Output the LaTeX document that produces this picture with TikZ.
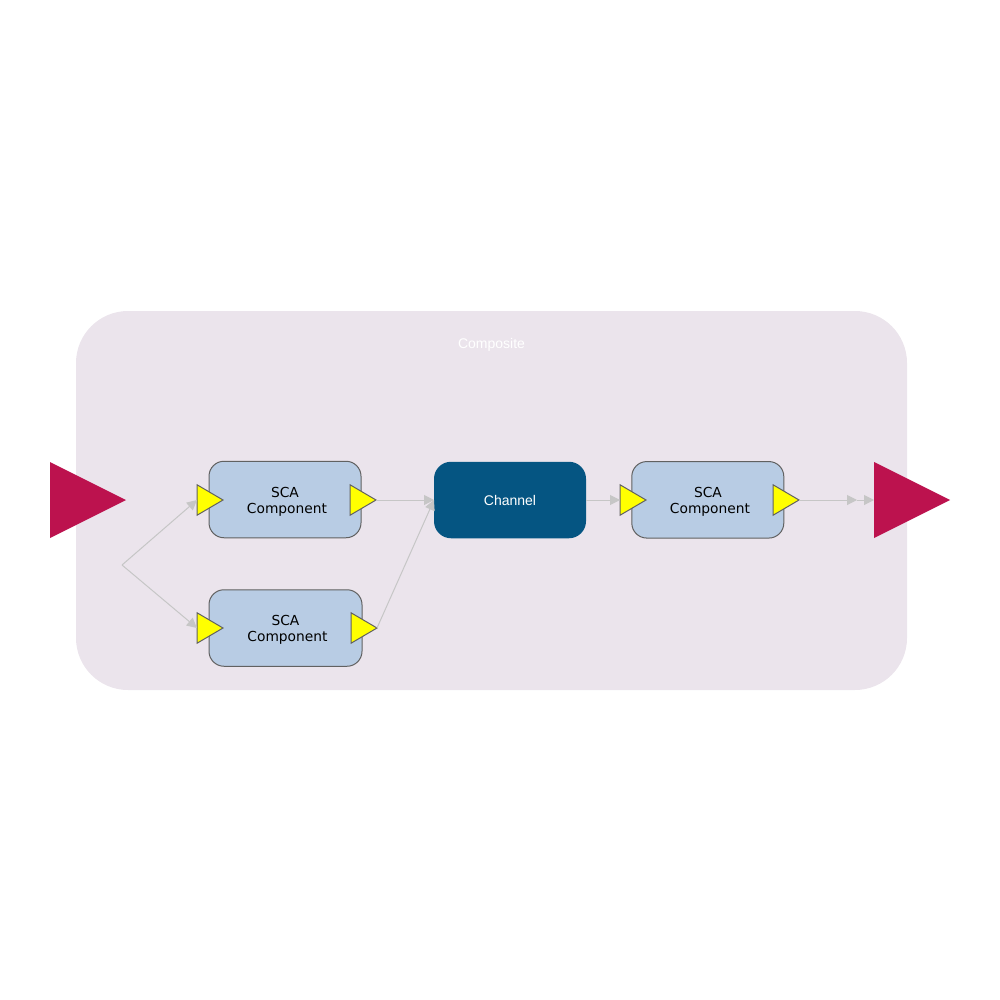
\documentclass[tikz,border=0pt]{standalone}
\usepackage{fontspec}
\setmainfont{Liberation Sans}
\newfontfamily\scafont{DejaVu Sans}
\usetikzlibrary{shapes.geometric,arrows.meta}
\definecolor{compositebg}{HTML}{EBE4EC}
\definecolor{boxblue}{HTML}{B8CCE4}
\definecolor{channelblue}{HTML}{055582}
\definecolor{promotered}{HTML}{BC124E}
\definecolor{wiregray}{HTML}{C6C6C6}
\definecolor{portyellow}{rgb}{1,1,0}
\tikzset{
 composite/.style={fill=compositebg,rounded corners=52pt,minimum width=831pt,minimum height=379pt,inner sep=0pt,outer sep=0pt},
 scabox/.style={draw=black!62,fill=boxblue,line width=1pt,rounded corners=15pt,minimum height=76.5pt,inner sep=0pt,outer sep=0pt},
 scatext/.style={font=\scafont\fontsize{13.8}{16}\selectfont,align=center,inner sep=0pt},
 channel/.style={fill=channelblue,rounded corners=17pt,minimum width=152pt,minimum height=76.5pt,inner sep=0pt,outer sep=0pt,text=white,font=\fontsize{14}{16}\selectfont},
 tri/.style={shape=isosceles triangle,isosceles triangle stretches,shape border rotate=0,inner sep=0pt,outer sep=0pt,anchor=lower side},
 port/.style={tri,draw=black!62,fill=portyellow,line width=1pt,minimum width=30.5pt,minimum height=26pt},
 promote/.style={tri,fill=promotered,minimum width=76pt,minimum height=76pt},
 wire/.style={draw=wiregray,line width=1pt,-{Triangle[length=10pt,width=10pt,fill=wiregray]}}
}
\begin{document}
\begin{tikzpicture}[x=1pt,y=-1pt]
 \useasboundingbox (0,0) rectangle (1000,1000);
 \node[composite] (comp) at (491.5,500.5) {};
 \node[font=\fontsize{14}{16}\selectfont,text=white,inner sep=0pt] (comptitle) at (491.5,344.5) {Composite};
 \node[promote] (promin) at (50,500) {};
 \node[promote] (promout) at (874,500) {};
 \node[scabox,minimum width=152pt] (sca1) at (285,499.5) {};
 \node[scabox,minimum width=153pt] (sca2) at (285.5,628) {};
 \node[scabox,minimum width=152pt] (sca3) at (707.8,499.8) {};
 \node[scatext] (sca1text) at (287,501.5) {SCA\kern4pt\\Component};
 \node[scatext] (sca2text) at (287.5,630) {SCA\kern4pt\\Component};
 \node[scatext] (sca3text) at (710,502) {SCA\kern4pt\\Component};
 \node[channel] (chan) at (510,500) {Channel};
 \node[port] (in1) at (197,500) {};
 \node[port] (out1) at (350,500) {};
 \node[port] (in2) at (197,628) {};
 \node[port] (out2) at (351,628) {};
 \node[port] (in3) at (620,500) {};
 \node[port] (out3) at (773,500) {};
 \coordinate (fork) at (122,565);
 \coordinate (relay) at (857,500);
 \draw[wire] (fork) -- (in1.lower side);
 \draw[wire] (fork) -- (in2.lower side);
 \draw[wire] (out1.apex) -- (chan.west);
 \draw[wire] (out2.apex) -- (chan.west);
 \draw[wire] (chan.east) -- (in3.lower side);
 \draw[wire] (out3.apex) -- (relay);
 \draw[wire] (relay) -- (promout.lower side);
\end{tikzpicture}
\end{document}
